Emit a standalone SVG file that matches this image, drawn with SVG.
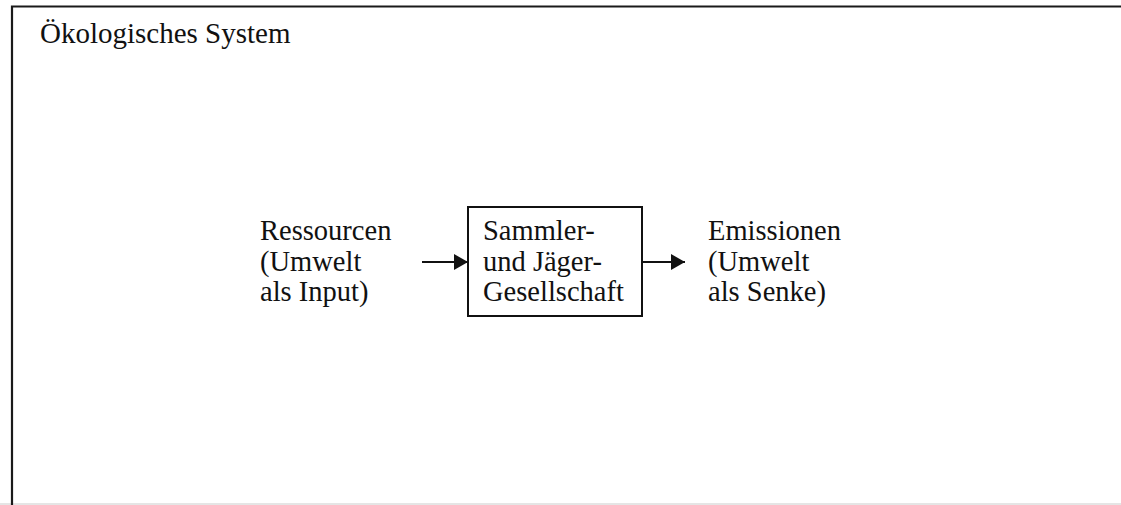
<svg xmlns="http://www.w3.org/2000/svg" width="1121" height="505" viewBox="0 0 1121 505">
  <style>
    .t { font-family: "Liberation Serif", "Times New Roman", serif; font-size: 28.5px; fill: #111; }
    .title { font-size: 29px; }
    .frame { fill: none; stroke: #1a1a1a; stroke-width: 2.2; }
    .edge { fill: none; stroke: #111; stroke-width: 2; }
  </style>
  <defs>
    <marker id="arrow" markerWidth="14" markerHeight="16" refX="14" refY="8" orient="auto" markerUnits="userSpaceOnUse">
      <path d="M0,0 L14,8 L0,16 Z" fill="#111"/>
    </marker>
  </defs>
  <rect width="1121" height="505" fill="#ffffff"/>
  <line x1="0" y1="504" x2="1121" y2="504" stroke="#dcdcdc" stroke-width="1.5"/>

  <!-- system boundary -->
  <g id="system">
    <path class="frame" d="M12,505 V6.5 H1121"/>
    <text class="t title" x="40" y="43">Ökologisches System</text>
  </g>

  <g id="ressourcen">
    <text class="t" x="260" y="240">Ressourcen</text>
    <text class="t" x="260" y="271">(Umwelt</text>
    <text class="t" x="260" y="301">als Input)</text>
  </g>

  <g id="gesellschaft">
    <rect x="468" y="207" width="174" height="109" fill="#fff" stroke="#111" stroke-width="2"/>
    <text class="t" x="483" y="240">Sammler-</text>
    <text class="t" x="483" y="271">und Jäger-</text>
    <text class="t" x="483" y="301">Gesellschaft</text>
  </g>

  <g id="emissionen">
    <text class="t" x="708" y="240">Emissionen</text>
    <text class="t" x="708" y="271">(Umwelt</text>
    <text class="t" x="708" y="301">als Senke)</text>
  </g>

  <g id="connectors">
    <line class="edge" x1="422" y1="262" x2="468" y2="262" marker-end="url(#arrow)"/>
    <line class="edge" x1="642" y1="262" x2="685" y2="262" marker-end="url(#arrow)"/>
  </g>
</svg>
